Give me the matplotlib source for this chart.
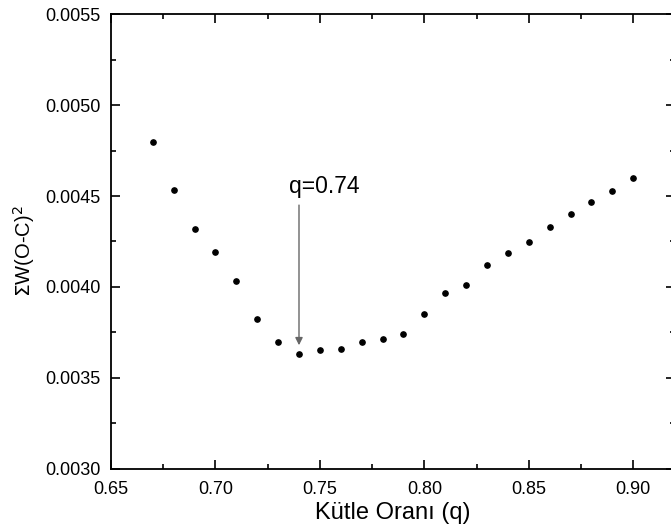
import matplotlib
matplotlib.use("Agg")
import matplotlib.pyplot as plt
from matplotlib.ticker import MultipleLocator, FormatStrFormatter
import numpy as np

plt.rcParams['font.family'] = ['Liberation Sans', 'DejaVu Sans']

# mass ratio q and sum of weighted squared residuals
q = [0.67, 0.68, 0.69, 0.70, 0.71, 0.72, 0.73, 0.74, 0.75, 0.76, 0.77, 0.78,
     0.79, 0.80, 0.81, 0.82, 0.83, 0.84, 0.85, 0.86, 0.87, 0.88, 0.89, 0.90]
sum_w = [0.004797, 0.004533, 0.004319, 0.004192, 0.004035, 0.003824, 0.003698, 0.003634,
         0.003656, 0.003658, 0.003696, 0.003713, 0.003743, 0.003854, 0.003967, 0.004011,
         0.004121, 0.004187, 0.004245, 0.004330, 0.004401, 0.004467, 0.004527, 0.004599]

arrow_top = 0.00445
arrow_tip = 0.00368
label_y = 0.00455

fig = plt.figure(figsize=(6.71, 5.31), dpi=100)
ax = fig.add_axes([0.1654, 0.1168, 0.8406, 0.8568])

ax.plot(q, sum_w, 'o', color='black', markersize=3.8, linestyle='none')

i_min = int(np.argmin(sum_w))
q_min = q[i_min]
ax.annotate('', xy=(q_min, arrow_tip), xytext=(q_min, arrow_top),
            arrowprops=dict(arrowstyle='-|>', color='0.4', lw=1.0,
                            mutation_scale=11, shrinkA=0, shrinkB=0))
ax.text(q_min - 0.0048, label_y, f'q={q_min:.2f}', fontsize=16.5, va='center', ha='left')

ax.set_xlim(0.65, 0.92)
ax.set_ylim(0.0030, 0.0055)
ax.xaxis.set_major_locator(MultipleLocator(0.05))
ax.xaxis.set_minor_locator(MultipleLocator(0.025))
ax.yaxis.set_major_locator(MultipleLocator(0.0005))
ax.yaxis.set_minor_locator(MultipleLocator(0.00025))
ax.xaxis.set_major_formatter(FormatStrFormatter('%.2f'))
ax.yaxis.set_major_formatter(FormatStrFormatter('%.4f'))

ax.tick_params(which='both', direction='in', top=True, right=True, width=1.2, labelsize=13)
ax.tick_params(which='major', length=6.5)
ax.tick_params(which='minor', length=3.3)
ax.tick_params(axis='x', which='major', pad=8.5)
ax.tick_params(axis='y', which='major', pad=7.5)
for s in ax.spines.values():
    s.set_linewidth(1.3)

ax.set_xlabel('Kütle Oranı (q)', fontsize=17)
ax.set_ylabel(r'$\Sigma$W(O-C)$^2$', fontsize=14.5)
ax.xaxis.set_label_coords(0.5, -0.072, transform=ax.transAxes)
ax.yaxis.set_label_coords(-0.131, 0.479, transform=ax.transAxes)

fig.savefig('out.png', dpi=100)
